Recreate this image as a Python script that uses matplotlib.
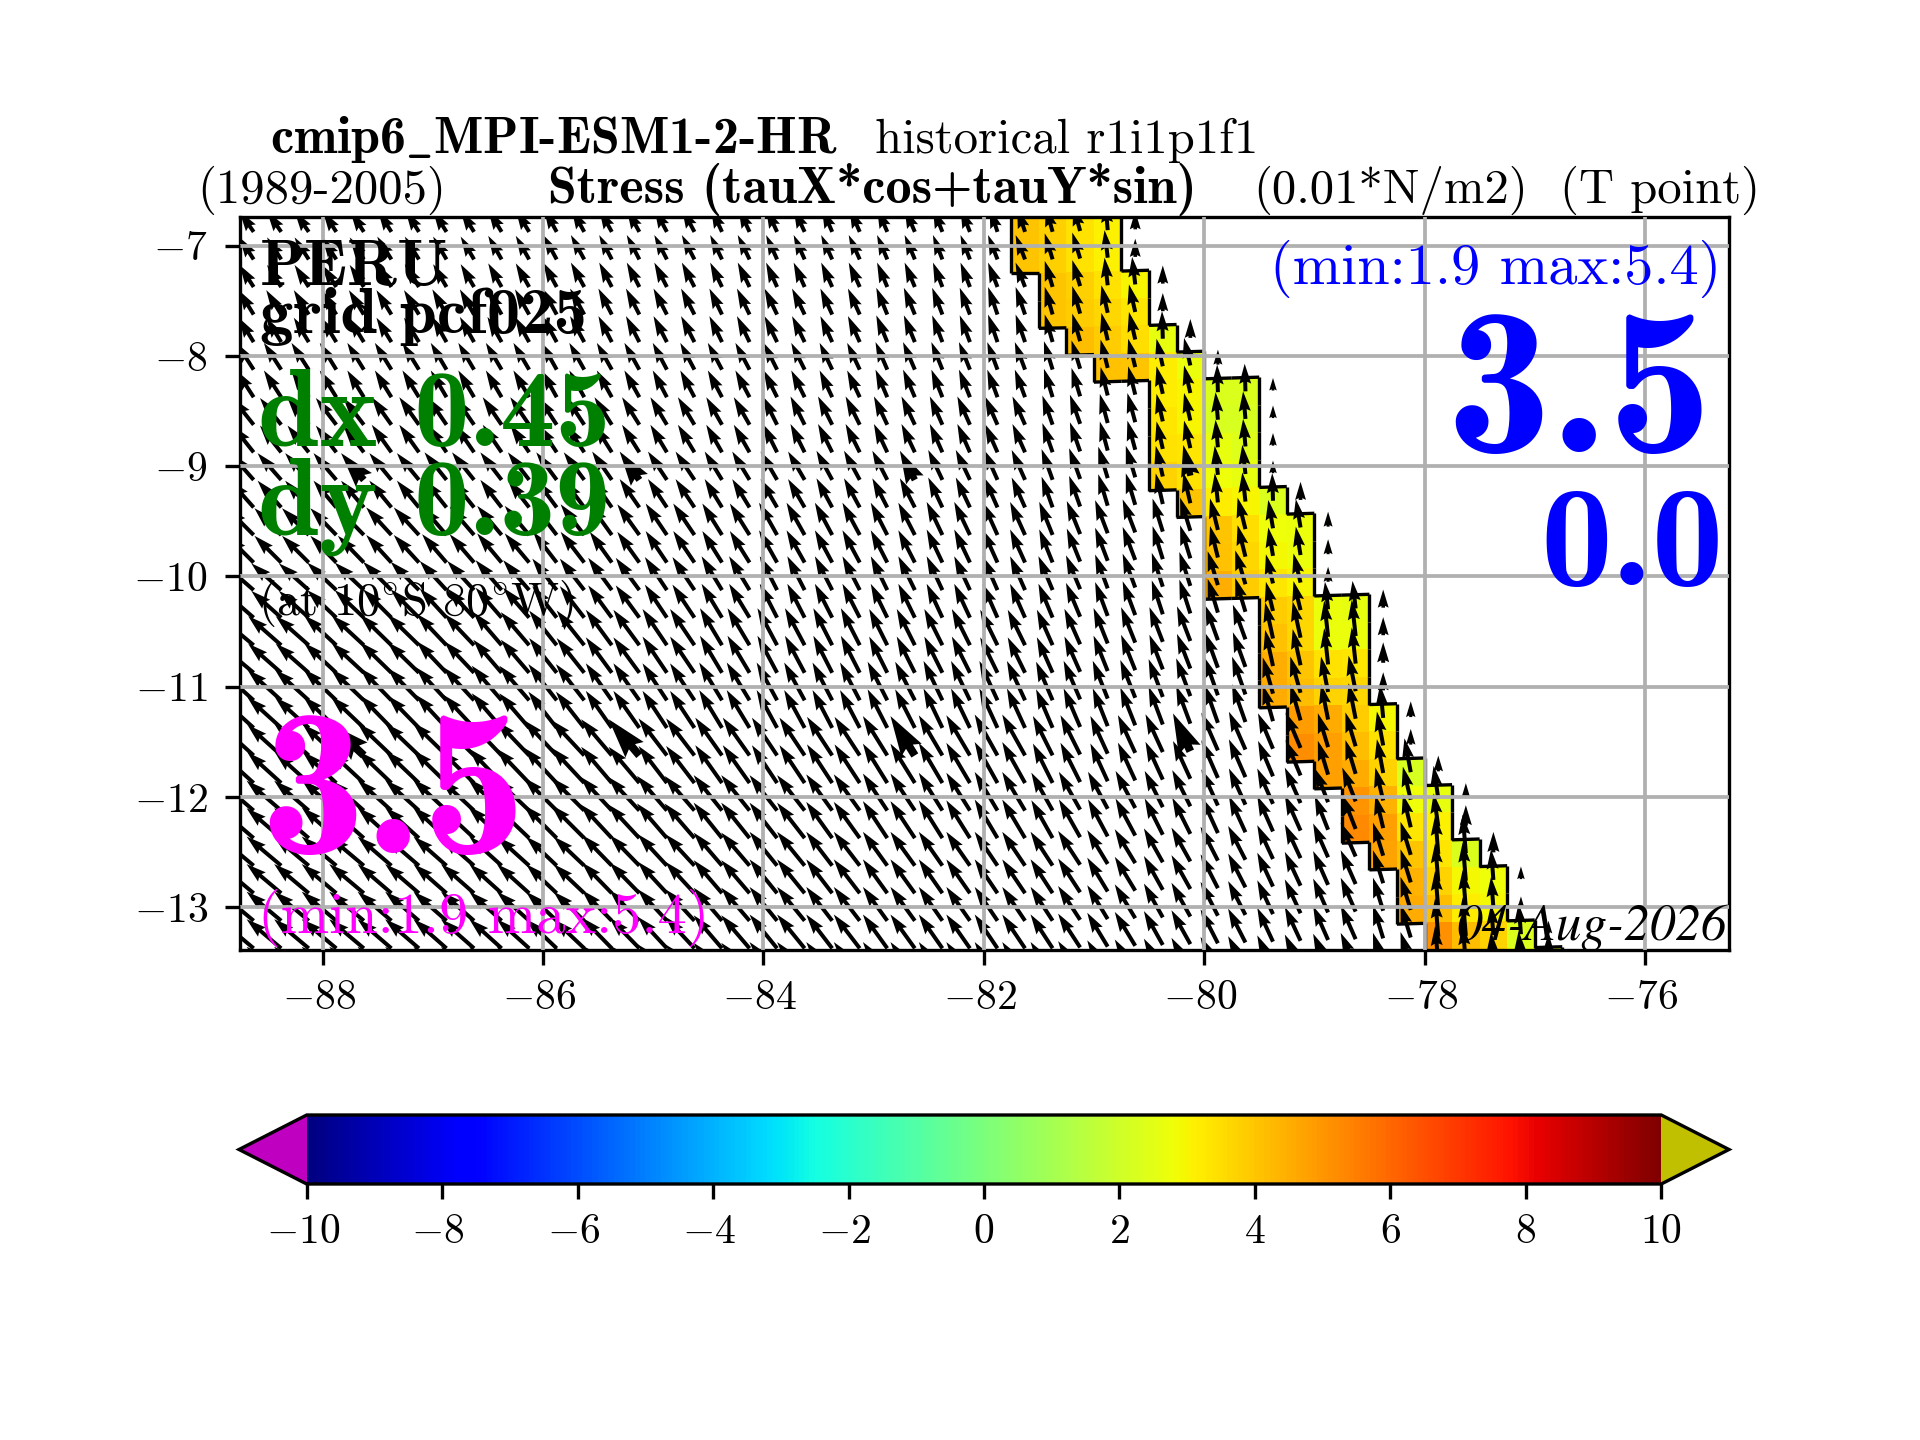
#!/usr/bin/env python3
"""Coastal Peru wind stress map: coloured band, quiver field, colorbar."""

import matplotlib
matplotlib.use("Agg")
import matplotlib.pyplot as plt
import numpy as np
from matplotlib.collections import LineCollection
from matplotlib.transforms import ScaledTranslation

plt.rcParams["font.family"] = "cmr10"
plt.rcParams["mathtext.fontset"] = "cm"
plt.rcParams["axes.formatter.use_mathtext"] = True

W, H = 1920, 1440

# ---- data ------------------------------------------------------------------
# wind stress in 0.01 N/m2, one row per 0.5 deg of latitude from 6.5S going
# south, one column per 0.5 deg of longitude from 89W going east
TAU_U = [
    [-1.8,-1.8,-1.7,-1.7,-1.7,-1.7,-1.6,-1.6,-1.6,-1.4,-1.4,-1.3,-1.3,-1.2,-1.0,-0.9,-0.3,0,0,0,0,0,0,0,0,0,0],
    [-1.8,-1.8,-1.8,-1.8,-1.7,-1.7,-1.7,-1.6,-1.6,-1.5,-1.4,-1.4,-1.3,-1.2,-1.2,-1.0,-0.4,0,0,0,0,0,0,0,0,0,0],
    [-1.9,-1.9,-1.9,-1.9,-1.8,-1.8,-1.8,-1.7,-1.7,-1.6,-1.6,-1.5,-1.4,-1.3,-1.2,-1.0,-0.8,-0.1,0,0,0,0,0,0,0,0,0],
    [-2.2,-2.2,-2.1,-2.1,-2.0,-2.0,-1.9,-1.9,-1.8,-1.8,-1.7,-1.6,-1.5,-1.4,-1.3,-1.1,-0.9,-0.8,-0.1,0,0,0,0,0,0,0,0],
    [-2.7,-2.7,-2.6,-2.5,-2.4,-2.4,-2.3,-2.2,-2.1,-2.0,-1.8,-1.8,-1.7,-1.6,-1.6,-1.3,-1.0,-0.8,-0.3,0,0,0,0,0,0,0,0],
    [-3.0,-3.0,-2.9,-2.8,-2.8,-2.7,-2.6,-2.5,-2.4,-2.2,-2.1,-2.0,-1.9,-1.8,-1.7,-1.4,-1.2,-0.9,-0.4,-0.1,0,0,0,0,0,0,0],
    [-3.4,-3.4,-3.3,-3.2,-3.1,-3.1,-3.0,-2.8,-2.7,-2.5,-2.3,-2.2,-2.1,-2.0,-1.9,-1.7,-1.6,-1.3,-1.0,-0.6,-0.1,0,0,0,0,0,0],
    [-3.9,-3.8,-3.7,-3.6,-3.4,-3.3,-3.1,-3.0,-2.8,-2.6,-2.2,-2.2,-2.1,-2.0,-1.9,-1.8,-1.6,-1.4,-1.3,-0.9,-0.4,0,0,0,0,0,0],
    [-4.3,-4.2,-4.1,-4.0,-3.8,-3.6,-3.5,-3.3,-3.1,-2.8,-2.5,-2.4,-2.3,-2.3,-2.2,-2.0,-1.8,-1.7,-1.6,-1.0,-0.5,-0.1,0,0,0,0,0],
    [-4.3,-4.3,-4.2,-4.0,-3.9,-3.8,-3.6,-3.3,-3.1,-2.9,-2.6,-2.5,-2.5,-2.4,-2.3,-2.1,-1.9,-1.8,-1.7,-1.3,-0.9,-0.4,-0.3,0,0,0,0],
    [-4.3,-4.3,-4.3,-4.3,-4.3,-4.2,-4.2,-3.9,-3.6,-3.4,-3.2,-3.2,-3.1,-3.0,-2.9,-2.5,-2.2,-2.2,-2.1,-1.9,-1.3,-0.8,-0.4,0,0,0,0],
    [-4.4,-4.4,-4.4,-4.3,-4.3,-4.3,-4.2,-4.0,-3.8,-3.6,-3.5,-3.3,-3.1,-3.0,-2.9,-2.7,-2.5,-2.3,-2.1,-2.0,-1.7,-1.0,-0.6,-0.3,0,0,0],
    [-4.4,-4.4,-4.4,-4.3,-4.2,-4.1,-3.9,-3.8,-3.7,-3.6,-3.5,-3.3,-3.1,-3.0,-2.9,-2.8,-2.6,-2.4,-2.2,-2.0,-1.9,-1.3,-0.4,-0.3,0,0,0],
    [-4.4,-4.4,-4.4,-4.3,-4.2,-4.1,-3.9,-3.8,-3.7,-3.6,-3.5,-3.3,-3.1,-3.0,-2.9,-2.8,-2.6,-2.4,-2.2,-2.0,-1.9,-1.3,-0.4,-0.3,0,0,0],
    [-4.4,-4.4,-4.4,-4.3,-4.2,-4.1,-3.9,-3.8,-3.7,-3.6,-3.5,-3.3,-3.1,-3.0,-2.9,-2.8,-2.6,-2.4,-2.2,-2.0,-1.9,-1.3,-0.4,-0.3,0,0,0],
]
TAU_V = [
    [2.6,2.6,2.6,2.7,2.7,2.8,2.9,2.9,3.0,3.0,3.0,3.0,3.0,3.0,3.0,3.2,3.5,3.5,0,0,0,0,0,0,0,0,0],
    [2.8,2.8,2.8,2.9,2.9,3.0,3.1,3.1,3.1,3.1,3.1,3.1,3.1,3.1,3.1,3.3,3.5,3.5,3.5,0,0,0,0,0,0,0,0],
    [3.1,3.1,3.1,3.1,3.2,3.2,3.3,3.3,3.3,3.3,3.3,3.3,3.4,3.4,3.5,3.5,3.5,3.5,3.5,3.5,0,0,0,0,0,0,0],
    [3.4,3.4,3.4,3.4,3.4,3.4,3.4,3.4,3.4,3.4,3.4,3.4,3.5,3.5,3.5,3.6,3.6,3.5,3.5,3.5,0,0,0,0,0,0,0],
    [3.4,3.4,3.4,3.5,3.5,3.5,3.5,3.5,3.5,3.5,3.6,3.6,3.6,3.6,3.6,3.7,3.7,3.5,3.5,3.5,3.5,0,0,0,0,0,0],
    [3.4,3.4,3.4,3.4,3.5,3.5,3.5,3.6,3.6,3.6,3.6,3.7,3.7,3.8,3.8,3.9,4.0,3.9,3.7,3.5,3.5,3.5,0,0,0,0,0],
    [3.4,3.4,3.4,3.5,3.6,3.7,3.9,3.9,4.0,4.0,4.1,4.1,4.1,4.2,4.2,4.2,4.2,4.2,4.0,3.6,3.5,3.5,0,0,0,0,0],
    [3.4,3.4,3.5,3.6,3.7,3.8,4.0,4.1,4.2,4.3,4.3,4.3,4.3,4.3,4.3,4.3,4.3,4.3,4.3,3.7,3.5,3.5,0,0,0,0,0],
    [3.6,3.7,3.8,3.9,4.0,4.2,4.4,4.5,4.6,4.7,4.7,4.7,4.6,4.6,4.5,4.5,4.5,4.4,4.4,4.6,4.6,3.8,3.5,0,0,0,0],
    [3.9,3.9,4.0,4.1,4.2,4.4,4.6,4.7,4.7,4.8,4.8,4.8,4.9,5.0,5.0,4.9,4.8,4.8,4.8,4.6,4.5,4.2,3.5,0,0,0,0],
    [3.9,3.9,4.0,4.1,4.2,4.4,4.5,4.6,4.7,4.8,4.8,4.9,5.0,5.1,5.2,5.0,4.8,4.8,4.8,4.5,4.3,4.3,4.0,3.5,0,0,0],
    [3.8,3.8,3.9,3.9,4.0,4.1,4.2,4.3,4.4,4.5,4.5,4.6,4.7,4.8,4.9,4.8,4.7,4.6,4.6,4.5,4.3,4.2,4.2,3.5,0,0,0],
    [3.7,3.7,3.7,3.7,3.7,3.7,3.7,3.9,4.0,4.2,4.3,4.3,4.3,4.3,4.3,4.3,4.3,4.3,4.3,4.3,4.3,4.2,4.9,3.9,3.5,0,0],
    [3.7,3.7,3.7,3.7,3.7,3.7,3.7,3.9,4.0,4.2,4.3,4.3,4.3,4.3,4.3,4.3,4.3,4.3,4.3,4.3,4.3,4.2,4.9,3.9,3.5,0,0],
    [3.7,3.7,3.7,3.7,3.7,3.7,3.7,3.9,4.0,4.2,4.3,4.3,4.3,4.3,4.3,4.3,4.3,4.3,4.3,4.3,4.3,4.2,4.9,3.9,3.5,0,0],
]

# coloured coastal band: one entry per 0.25 deg row from 6.5S going south
BAND_WEST = [-81.75,-81.75,-81.75,-81.5,-81.5,-81.25,-81.0,-80.5,-80.5,-80.5,-80.5,-80.25,-80.0,-80.0,-80.0,
             -79.5,-79.5,-79.5,-79.5,-79.25,-79.25,-79.0,-78.75,-78.75,-78.5,-78.25,-78.25,-78.0,-78.0]
BAND_VALUES = [
    [4.0,3.8,3.4,3.1],[4.0,3.8,3.4,3.1],[4.0,3.8,3.4,3.1],[4.0,3.8,3.4,3.0],[4.0,3.9,3.6,3.3],
    [4.2,3.9,3.5,2.6],[4.1,4.0,3.2,2.7],[3.2,3.0,2.3,2.3],[3.3,3.0,2.2,2.2],[3.4,3.3,2.6,2.4],
    [3.7,3.4,2.8,2.6],[4.0,3.2,3.0,2.3],[4.0,3.5,2.8,2.7],[4.1,3.6,2.9,2.7],[4.5,3.9,3.3,3.0],
    [3.9,3.6,2.7,2.6],[4.1,3.6,2.7,2.7],[4.5,4.0,3.4,3.3],[4.6,4.2,3.7,3.6],[4.9,4.6,3.9,2.9],
    [5.2,4.8,4.2,3.4],[4.8,4.6,3.7,2.2],[5.0,4.4,2.8,2.6],[5.3,4.8,3.3,3.1],[4.7,4.0,3.3,2.3],
    [4.4,3.7,2.9,2.8],[4.6,4.2,3.2,2.9],[5.1,4.2,3.7,2.3],[5.0,4.2,3.7,2.8],
]
# stress of the small arrow in the one column just east of the band, per row
EDGE_V = [2.3,2.3,2.3,2.3,2.3,2.4,1.9,1.6,1.6,1.6,1.6,2.3,1.9,1.9,1.9,
          2.3,2.3,2.6,2.3,2.0,2.0,2.0,1.9,2.6,2.6,1.6,1.3,1.6,1.3]

# the eight arrows drawn heavier
BIG_LON = [-87.625, -85.125, -82.625, -80.125]
BIG_LAT = [-9.125, -11.625]

X_TICKS = [-88, -86, -84, -82, -80, -78, -76]
Y_TICKS = [-7, -8, -9, -10, -11, -12, -13]
CB_TICKS = [-10, -8, -6, -4, -2, 0, 2, 4, 6, 8, 10]


def lat_tilt(lon):
    # model grid is slightly rotated towards the coast
    return 0.03 * np.clip(np.asarray(lon) + 81.4, 0.0, None)


def put(x, y, s, size, color="k", **kw):
    fig.text(x / W, 1 - y / H, s, fontsize=size, color=color, va="baseline", **kw)


def nudge(labels, dx):
    # tick labels with a math minus sit off centre, move them back
    shift = ScaledTranslation(dx / 300, 0, fig.dpi_scale_trans)
    for label in labels:
        if "-" in label.get_text() or "\N{MINUS SIGN}" in label.get_text():
            label.set_transform(label.get_transform() + shift)


fig = plt.figure(figsize=(6.4, 4.8), dpi=300)
ax = fig.add_axes([240 / W, 1 - 950 / H, (1729 - 240) / W, (950 - 217) / H])

lon_edges = -89.0 + 0.25 * np.arange(55)
lat_edges = -6.5 - 0.25 * np.arange(31)
lon_c = 0.5 * (lon_edges[:-1] + lon_edges[1:])
lat_c = 0.5 * (lat_edges[:-1] + lat_edges[1:])
LON_E, LAT_E = np.meshgrid(lon_edges, lat_edges)
LAT_E = LAT_E + lat_tilt(LON_E)
LON_C, LAT_C = np.meshgrid(lon_c, lat_c)
LAT_C = LAT_C + lat_tilt(LON_C)

# coloured band and the matching arrow mask
band = np.full((30, 54), np.nan)
keep = np.zeros((30, 54), dtype=bool)
u = np.repeat(np.repeat(np.array(TAU_U), 2, axis=0), 2, axis=1)
v = np.repeat(np.repeat(np.array(TAU_V), 2, axis=0), 2, axis=1)
for row, (west, vals) in enumerate(zip(BAND_WEST, BAND_VALUES)):
    first = int(round((west + 89.0) / 0.25))
    vals = list(vals)
    if row == 28:
        vals = vals + [2.3]
    band[row, first:first + len(vals)] = vals
    stop = first + len(vals)
    keep[row, :stop + 1] = True
    u[row, stop] = 0.0
    v[row, stop] = EDGE_V[row]

pcm = ax.pcolormesh(LON_E, LAT_E, np.ma.masked_invalid(band), cmap="jet", vmin=-10, vmax=10)

# black outline round the band
segments = []
filled = np.isfinite(band)
for j in range(30):
    for i in range(54):
        if not filled[j, i]:
            continue
        if j == 0 or not filled[j - 1, i]:
            segments.append([(LON_E[j, i], LAT_E[j, i]), (LON_E[j, i + 1], LAT_E[j, i + 1])])
        if j == 29 or not filled[j + 1, i]:
            segments.append([(LON_E[j + 1, i], LAT_E[j + 1, i]), (LON_E[j + 1, i + 1], LAT_E[j + 1, i + 1])])
        if i == 0 or not filled[j, i - 1]:
            segments.append([(LON_E[j, i], LAT_E[j, i]), (LON_E[j + 1, i], LAT_E[j + 1, i])])
        if i == 53 or not filled[j, i + 1]:
            segments.append([(LON_E[j, i + 1], LAT_E[j, i + 1]), (LON_E[j + 1, i + 1], LAT_E[j + 1, i + 1])])
ax.add_collection(LineCollection(segments, colors="k", linewidths=0.8))

# arrows
big = np.zeros_like(keep)
for blat in BIG_LAT:
    for blon in BIG_LON:
        big[np.argmin(np.abs(lat_c - blat)), np.argmin(np.abs(lon_c - blon))] = True
normal = keep & ~big
quiver_style = dict(angles="xy", scale_units="xy", scale=14.0, units="dots", pivot="tail", color="k")
ax.quiver(LON_C[normal], LAT_C[normal], u[normal], v[normal], width=4.0, **quiver_style)
ax.quiver(LON_C[big], LAT_C[big], u[big], v[big], width=8.0, **quiver_style)

ax.set_xlim(-88.749, -75.237)
ax.set_ylim(-13.39, -6.74)
ax.set_xticks(X_TICKS)
ax.set_yticks(Y_TICKS)
ax.grid(True, color="#b0b0b0", linewidth=0.9)
ax.set_axisbelow(False)
fig.canvas.draw()
nudge(ax.get_xticklabels(), -3.5)
nudge(ax.get_yticklabels(), -3)

# colorbar
cax = fig.add_axes([239 / W, 1 - 1184 / H, (1729 - 239) / W, (1184 - 1115) / H])
cmap = pcm.get_cmap().copy()
cmap.set_under("#c000c0")
cmap.set_over("#c0c000")
pcm.set_cmap(cmap)
cb = fig.colorbar(pcm, cax=cax, orientation="horizontal", extend="both", ticks=CB_TICKS)
fig.canvas.draw()
nudge(cax.get_xticklabels(), -4)

# text
bold = dict(family="cmb10")
put(270, 153, r"cmip6$\_$MPI-ESM1-2-HR", 12.5, **bold)
put(875, 153, "historical r1i1p1f1", 11.7)
put(197, 203, "(1989-2005)", 11.7)
put(548, 203, "Stress (tauX*cos+tauY*sin)", 12.5, **bold)
put(1253, 203, "(0.01*N/m2)", 11.7)
put(1560, 203, "(T point)", 11.7)
put(260, 285, "PERU", 15.8, **bold)
put(260, 333, "grid pcf025", 16, **bold)
put(258, 446, "dx 0.45", 26.5, color="green", **bold)
put(258, 534, "dy 0.39", 26.5, color="green", **bold)
put(258, 615, r"(at 10$^{\circ}$S 80$^{\circ}$W)", 11.2)
put(260, 853, "3.5", 50, color="magenta", **bold)
put(258, 933, "(min:1.9 max:5.4)", 14, color="magenta")
put(1721, 284, "(min:1.9 max:5.4)", 14, color="blue", ha="right")
put(1712, 452, "3.5", 50, color="blue", ha="right", **bold)
put(1724, 585, "0.0", 34.5, color="blue", ha="right", **bold)
put(1727, 940, "04-Aug-2026", 12.3, ha="right", family="STIXGeneral", style="italic")

fig.savefig("out.png", dpi=300)
